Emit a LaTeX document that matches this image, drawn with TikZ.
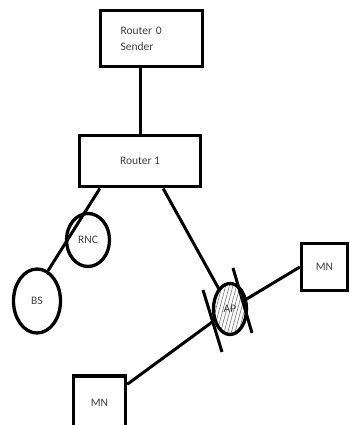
\documentclass[tikz,border=0pt]{standalone}
\usepackage{fontspec}
\setmainfont{Carlito}
\usetikzlibrary{positioning}
\usetikzlibrary{calc}
\usetikzlibrary{shapes.geometric}
\usetikzlibrary{patterns.meta}

\begin{document}
\begin{tikzpicture}[x=1pt, y=1pt, line width=3.3pt,
    box/.style={draw, rectangle, font=\fontsize{11.5}{16}\selectfont, text=black!75},
    cell/.style={draw, ellipse, inner sep=0pt, font=\fontsize{11.5}{13}\selectfont, text=black!75},
    link/.style={line width=3pt}]
    \useasboundingbox (0,0) rectangle (350,-425);
    \clip (0,0) rectangle (350,-425);

    \node [box, minimum width=102pt, minimum height=56pt, text width=62pt, inner xsep=20pt, align=left] (r0) at (151.5,-38.5) {Router 0\\Sender};
    \node [box, minimum width=121pt, minimum height=51pt, below=66pt of r0, xshift=-11.5pt] (r1) {Router 1};
    \node [cell, minimum width=43pt, minimum height=53pt] (rnc) at (88,-240) {RNC};
    \node [cell, minimum width=47pt, minimum height=64pt] (bs) at (37,-301) {BS};
    \node [cell, minimum width=33pt, minimum height=51pt, fill=white, pattern={Lines[angle=75, distance=3.5pt, line width=0.6pt]}, pattern color=black!55] (ap) at (230,-309) {AP};
    \node [box, minimum width=46pt, minimum height=47pt] (mn1) at (324.5,-267) {MN};
    \node [box, minimum width=52pt, minimum height=54pt] (mn2) at (99.5,-403) {MN};

    \coordinate (r1bs) at ($(r1.south west)+(22pt,0)$);
    \coordinate (r1ap) at ($(r1.south east)+(-39pt,0)$);
    \coordinate (mn2ap) at ($(mn2.north east)+(0,-10pt)$);

    \draw [link] (r1.north |- r0.south) -- (r1.north);
    \draw [link] (r1bs) -- (bs.70);
    \draw [link] (r1ap) -- (ap);
    \draw [link] (ap) -- (mn1.west);
    \draw [link] (mn2ap) -- (ap);

    \draw [link] ($(ap)+(-27,19)$) -- ($(ap)+(-8,-43)$);
    \draw [link] ($(ap)+(3,41)$) -- ($(ap)+(22,-24)$);
\end{tikzpicture}
\end{document}
